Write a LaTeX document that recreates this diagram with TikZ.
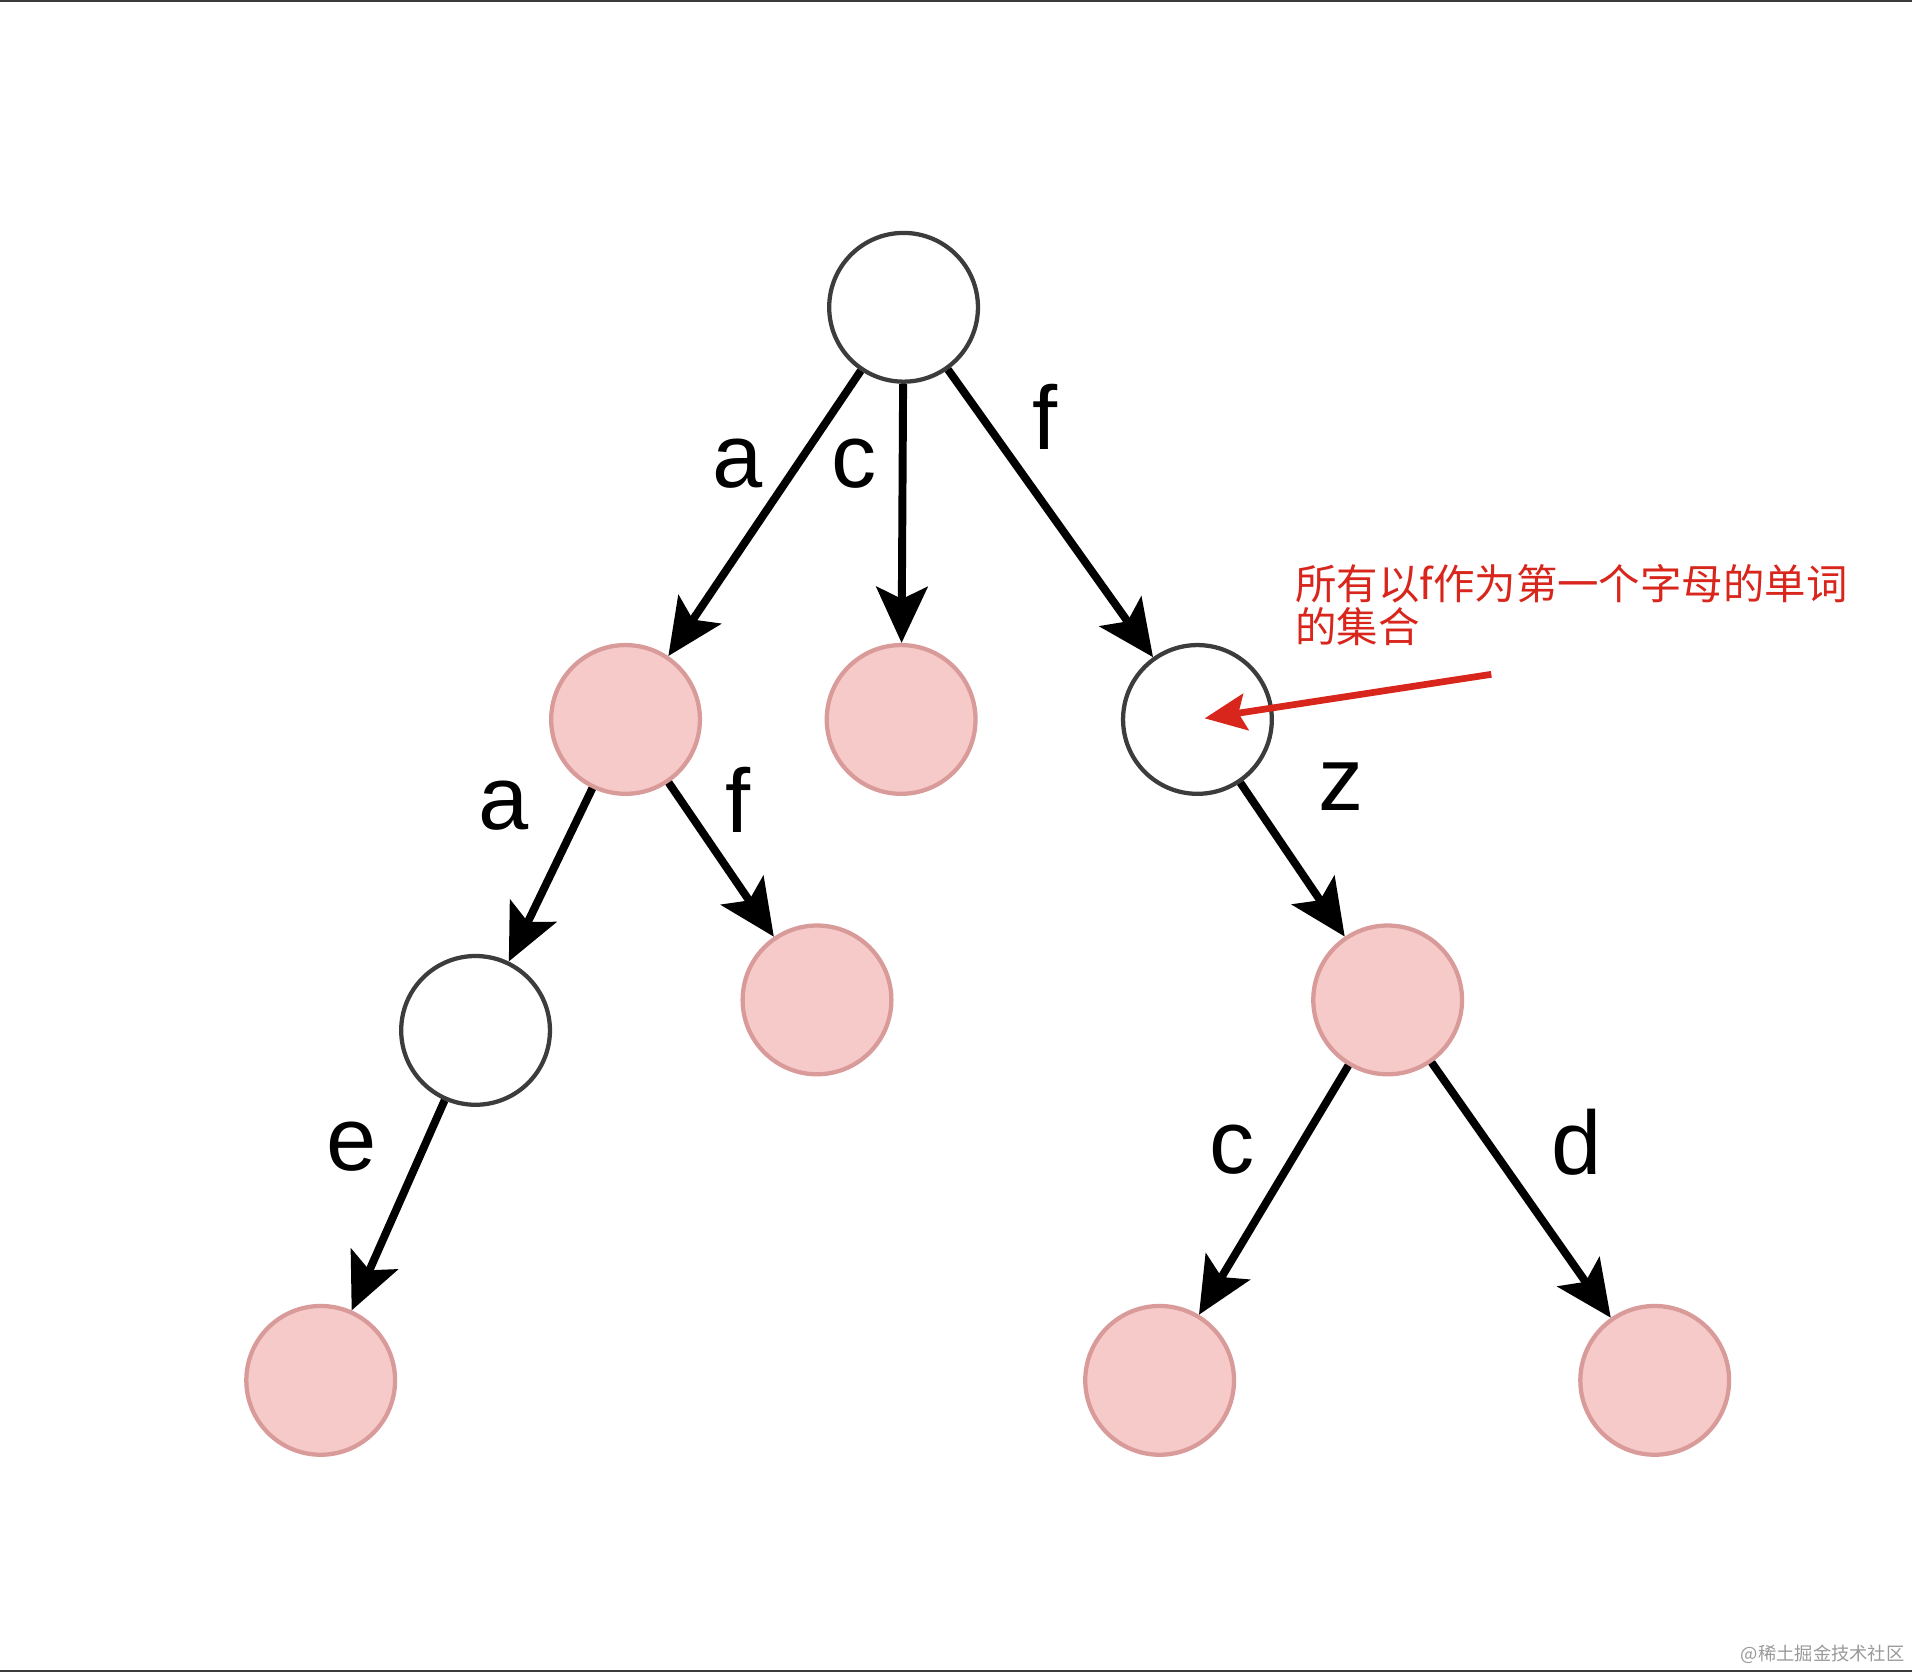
\documentclass[tikz,border=0pt]{standalone}
\usepackage{fontspec}
\setmainfont{Liberation Sans}
\newfontfamily\cjk{Noto Sans CJK SC}
\usetikzlibrary{arrows.meta}
\definecolor{pinkfill}{HTML}{F7CACA}
\definecolor{pinkline}{HTML}{D99A9A}
\definecolor{ringline}{HTML}{3C3C3C}
\definecolor{notered}{HTML}{D8261C}
\tikzset{
  trienode/.style={circle,minimum size=122pt,inner sep=0pt,line width=3.5pt},
  plain/.style={trienode,draw=ringline,fill=white},
  leaf/.style={trienode,draw=pinkline,fill=pinkfill},
  edge/.style={line width=6.5pt,-{Stealth[length=46pt,width=42pt,inset=10pt]}},
  lbl/.style={anchor=base,inner sep=0pt,font=\fontsize{74}{74}\selectfont},
  note/.style={anchor=north west,inner sep=0pt,align=left,text=notered,font=\cjk\fontsize{34}{35}\selectfont}
}
\begin{document}
\begin{tikzpicture}[x=1pt,y=-1pt]
\useasboundingbox (0,0) rectangle (1568,1371);
\fill[ringline] (0,0) rectangle (1568,1.6);
\fill[ringline] (0,1369.4) rectangle (1568,1371);
% nodes of the trie
\node[plain] (root) at (741,252) {};
\node[leaf]  (na)   at (513,590) {};
\node[leaf]  (nc)   at (739,590) {};
\node[plain] (nf)   at (982,590) {};
\node[plain] (naa)  at (390,845) {};
\node[leaf]  (naf)  at (670,820) {};
\node[leaf]  (nfz)  at (1138,820) {};
\node[leaf]  (naae) at (263,1132) {};
\node[leaf]  (nfzc) at (951,1132) {};
\node[leaf]  (nfzd) at (1357,1132) {};
% edges
\draw[edge] (root) -- (na);
\draw[edge] (root) -- (nc);
\draw[edge] (root) -- (nf);
\draw[edge] (na) -- (naa);
\draw[edge] (na) -- (naf);
\draw[edge] (nf) -- (nfz);
\draw[edge] (naa) -- (naae);
\draw[edge] (nfz) -- (nfzc);
\draw[edge] (nfz) -- (nfzd);
% edge letters
\node[lbl] (la)   at (605,400) {a};
\node[lbl] (lc)   at (700,400) {c};
\node[lbl] (lf)   at (857,369) {f};
\node[lbl] (laa)  at (413,680) {a};
\node[lbl] (laf)  at (605,683) {f};
\node[lbl] (lfz)  at (1100,665) {z};
\node[lbl] (laae) at (288,960) {e};
\node[lbl] (lfzc) at (1010,962) {c};
\node[lbl] (lfzd) at (1293,963) {d};
% annotation
\node[note] (txt) at (1062,463) {所有以f作为第一个字母的单词\\的集合};
\coordinate (tail) at (1223,553);
\draw[notered,line width=5.5pt,-{Stealth[length=34pt,width=30pt,inset=6pt]},shorten >=6pt] (tail) -- (nf.center);
\node[anchor=base east,inner sep=0pt,text=black!40,font=\cjk\fontsize{15}{15}\selectfont] (wm) at (1562,1362) {@稀土掘金技术社区};
\end{tikzpicture}
\end{document}
